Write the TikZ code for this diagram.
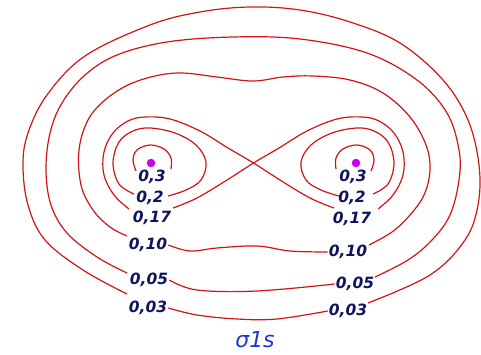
\documentclass[tikz,border=0pt]{standalone}
\usepackage{fontspec}
\setmainfont{DejaVu Sans}
\usepackage{tikz}
\usetikzlibrary{positioning}
\usepackage{xcolor}
\definecolor{isored}{RGB}{210,20,20}
\definecolor{labnavy}{RGB}{15,20,95}
\definecolor{nucviolet}{RGB}{205,0,235}
\definecolor{sigblue}{RGB}{30,55,205}
\tikzset{
  contour/.style={isored,line width=1.2pt,smooth,tension=0.6},
  lab/.style={font=\fontsize{15.5}{17}\selectfont\bfseries\itshape,text=labnavy,inner sep=1pt},
  nucleus/.style={circle,fill=nucviolet,inner sep=0pt,minimum size=8.5pt}
}

\begin{document}
\begin{tikzpicture}[x=1pt,y=-1pt]
  \useasboundingbox (0,0) rectangle (481,354);
  \node[nucleus] (nA) at (151,163) {};
  \node[nucleus] (nB) at (356,163) {};
  \foreach \v/\xl/\yl/\xr/\yr in {3/152/177/353/177, 2/150/198/352/198,
      17/152/218/352/219, 10/148/245/348/252, 05/149/280/355/284, 03/148/308/348/311}{
    \node[lab] (l\v) at (\xl,\yl) {0,\v};
    \node[lab] (r\v) at (\xr,\yr) {0,\v};
  }
  % loops round each nucleus, right ones mirrored
  \foreach \sx/\dx in {1/0,-1/507}{
    \begin{scope}[shift={(\dx,0)},xscale=\sx]
      \draw[contour] plot coordinates {(136,171) (133,160) (137,150) (150,145) (164,149) (171,158) (171,169)};
      \draw[contour] plot coordinates {(134,194) (119,184) (113,163) (119,142) (133,131) (150,128) (175,133)
        (196,145) (206,162) (201,180) (186,190) (168,196)};
      \draw[contour] plot coordinates {(129,209) (114,195) (104,175) (104,152) (113,133) (128,121) (145,117)
        (170,119) (200,131) (228,148) (253.5,163) (280,180) (310,198) (334,208)};
    \end{scope}
  }
  % outer contours
  \draw[contour] plot coordinates {(127,236) (110,227) (93,210) (81,185) (79,150) (88,120) (105,100) (128,85)
    (155,76) (182,73) (217,77) (253,81) (283,77) (313,76) (350,80) (383,93) (410,117) (426,145) (430,170)
    (424,195) (410,215) (392,232) (369,245)};
  \draw[contour] plot coordinates {(127,273) (97,257) (67,233) (51,205) (46,170) (50,133) (62,103) (85,75)
    (117,55) (167,42) (233,37) (300,39) (367,53) (417,80) (447,113) (459,150) (459,180) (450,215) (432,240)
    (408,260) (375,277)};
  \draw[contour] plot coordinates {(127,294) (83,270) (45,240) (28,205) (23,165) (28,133) (47,95) (85,56)
    (150,25) (200,12) (250,7) (300,10) (350,22) (400,43) (443,80) (468,120) (479,165) (478,205) (465,240)
    (430,275) (368,303)};
  \draw[contour] plot coordinates {(l10.east) (190,251) (217,248) (257,246) (290,251) (r10.west)};
  \draw[contour] plot coordinates {(l05.east) (197,290) (257,291) (r05.west)};
  \draw[contour] plot coordinates {(l03.east) (197,315) (237,319) (277,319) (r03.west)};
  \node[font=\fontsize{22}{24}\selectfont\itshape,text=sigblue] (orb) at (255,340) {σ1s};
\end{tikzpicture}
\end{document}
